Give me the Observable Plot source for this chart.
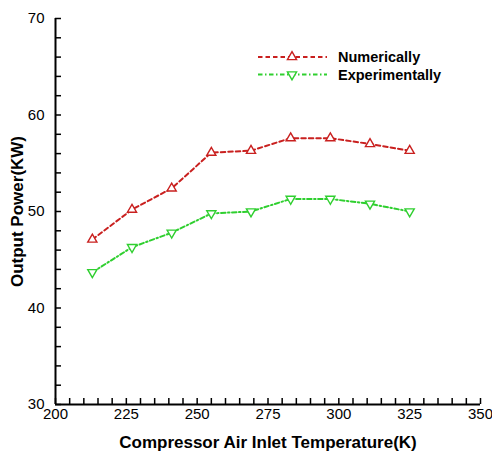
<!DOCTYPE html>
<html>
<head>
<meta charset="utf-8">
<script src="https://cdn.jsdelivr.net/npm/d3@7"></script>
<script src="https://cdn.jsdelivr.net/npm/@observablehq/plot@0.6"></script>
<style>
  html, body { margin: 0; padding: 0; background: #fff; }
  #chart { width: 492px; height: 452px; }
</style>
</head>
<body>
<div id="chart"></div>
<script>
const temps = [213, 227, 241, 255, 269, 283, 297, 311, 325];
const numerical = [47.1, 50.2, 52.4, 56.1, 56.3, 57.6, 57.6, 57.0, 56.3];
const experimental = [43.7, 46.3, 47.8, 49.8, 50.0, 51.3, 51.3, 50.8, 50.0];
const xTickLabels = [200, 225, 250, 275, 300, 325, 350];
const yTickLabels = [30, 40, 50, 60, 70];
const xMinor = d3.range(200, 351, 5);
const yMinor = d3.range(30, 71, 2);
const seriesNames = ["Numerically", "Experimentally"];

const RED = "#c9201f";
const GREEN = "#2fcf2f";
const RED_DASH = "4.5,3";
const GREEN_DASH = "4.5,2.5,1.5,2.5";

const W = 492, H = 452, mL = 55, mR = 12, mT = 18, mB = 48;
const fw = W - mL - mR, fh = H - mT - mB;

const numData = temps.map((t, i) => ({t, v: numerical[i]}));
const expData = temps.map((t, i) => ({t, v: experimental[i]}));

const chart = Plot.plot({
  width: W, height: H,
  marginLeft: mL, marginRight: mR, marginTop: mT, marginBottom: mB,
  style: {fontFamily: "'Liberation Sans', Arial, sans-serif", fontSize: "15px", color: "#000", background: "#fff"},
  x: {domain: [200, 350]},
  y: {domain: [30, 70]},
  marks: [
    Plot.axisX({ticks: xTickLabels, tickSize: 0, tickPadding: 4, label: null, fill: "#000"}),
    Plot.axisY({ticks: yTickLabels, tickSize: 0, tickPadding: 11, label: null, fill: "#000"}),
    Plot.tickX(xMinor, {x: d => d, insetTop: fh - 6, stroke: "#000", strokeWidth: 1.5}),
    Plot.tickY(yMinor, {y: d => d, insetRight: fw - 6, stroke: "#000", strokeWidth: 1.5}),
    Plot.ruleX([200], {stroke: "#000", strokeWidth: 2}),
    Plot.ruleY([30], {stroke: "#000", strokeWidth: 2}),
    Plot.line(numData, {x: "t", y: "v", stroke: RED, strokeWidth: 2, strokeDasharray: RED_DASH}),
    Plot.line(expData, {x: "t", y: "v", stroke: GREEN, strokeWidth: 2, strokeDasharray: GREEN_DASH}),
    Plot.dot(numData, {x: "t", y: "v", symbol: "triangle", r: 3.4, stroke: RED, fill: "#fff", strokeWidth: 1.4}),
    Plot.dot(expData, {x: "t", y: "v", symbol: "triangle", rotate: 180, r: 3.4, stroke: GREEN, fill: "#fff", strokeWidth: 1.4}),
    Plot.text(["Compressor Air Inlet Temperature(K)"], {frameAnchor: "bottom", dy: 38, lineAnchor: "middle", textAnchor: "middle", fontSize: 17, fontWeight: "bold", fill: "#000"}),
    Plot.text(["Output Power(KW)"], {frameAnchor: "left", dx: -37.5, rotate: -90, lineAnchor: "middle", textAnchor: "middle", fontSize: 17, fontWeight: "bold", fill: "#000"})
  ]
});

document.getElementById("chart").appendChild(chart);

// Legend (inside the frame, top right)
const svg = d3.select(chart);
const legend = svg.append("g")
  .attr("font-family", "'Liberation Sans', Arial, sans-serif")
  .attr("text-anchor", "start");
const legendItems = [
  {name: seriesNames[0], color: RED, dash: RED_DASH, rotate: 0},
  {name: seriesNames[1], color: GREEN, dash: GREEN_DASH, rotate: 180}
];
const tri = d3.symbol(d3.symbolTriangle, Math.PI * 3.4 * 3.4);
legendItems.forEach((it, i) => {
  const y = 57 + i * 17.5;
  legend.append("line").attr("x1", 258).attr("x2", 327).attr("y1", y).attr("y2", y)
    .attr("stroke", it.color).attr("stroke-width", 2).attr("stroke-dasharray", it.dash);
  legend.append("path").attr("d", tri()).attr("transform", `translate(292,${y}) rotate(${it.rotate})`)
    .attr("fill", "#fff").attr("stroke", it.color).attr("stroke-width", 1.4);
  legend.append("text").attr("x", 338).attr("y", y).attr("dy", "0.36em")
    .attr("text-anchor", "start")
    .attr("font-size", 14.5).attr("font-weight", "bold").attr("fill", "#000").text(it.name);
});
</script>
</body>
</html>
